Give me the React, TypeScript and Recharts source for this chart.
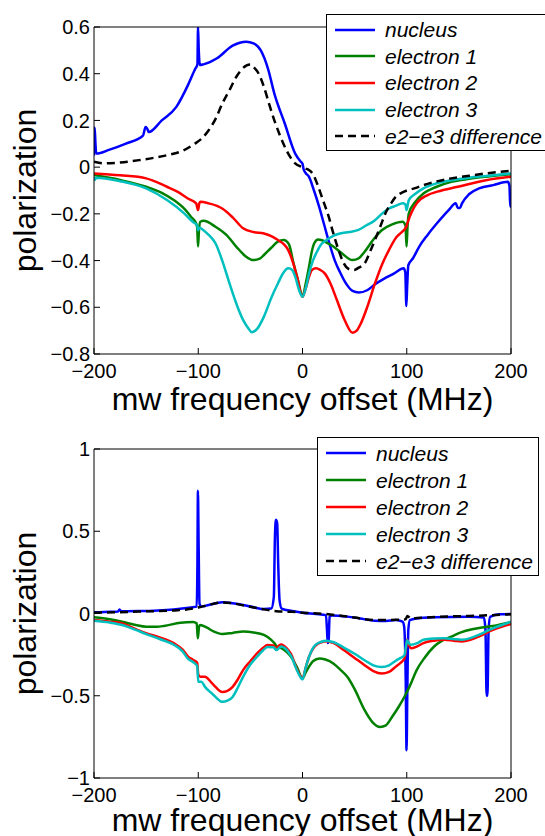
import { Legend, Line, LineChart, XAxis, YAxis } from "recharts";

type Pt = [number, number];

const xTicks = [-200, -100, 0, 100, 200];
const topYTicks = [-0.8, -0.6, -0.4, -0.2, 0, 0.2, 0.4, 0.6];
const bottomYTicks = [-1, -0.5, 0, 0.5, 1];
const seriesNames = ["nucleus", "electron 1", "electron 2", "electron 3", "e2\u2212e3 difference"];

// top panel
const topNucleus: Pt[] = [
  [-200, 0.05], [-199.4, 0.17], [-198.6, 0.1], [-197.8, 0.058], [-185, 0.075], [-170, 0.1],
  [-153, 0.135], [-150.5, 0.172], [-149, 0.165], [-147.5, 0.15], [-135, 0.2], [-121, 0.258],
  [-110, 0.35], [-103, 0.42], [-100.8, 0.44], [-100.2, 0.6], [-99.5, 0.5], [-98.5, 0.437],
  [-95, 0.44], [-82, 0.466], [-67, 0.52], [-54, 0.537], [-47, 0.53], [-40, 0.5], [-33, 0.42],
  [-27, 0.315], [-17, 0.187], [-7, 0.058], [-2, 0.025], [0, 0.015], [1, -0.008], [3, -0.025],
  [6, -0.04], [11, -0.1], [16, -0.17], [21, -0.25], [26, -0.33], [31, -0.4], [36, -0.45],
  [42, -0.5], [48, -0.53], [54, -0.537], [62, -0.527], [70, -0.5], [78, -0.478], [88, -0.455],
  [97, -0.433], [98.6, -0.45], [99.6, -0.595], [100.5, -0.5], [101.5, -0.42], [106, -0.39],
  [112, -0.34], [120, -0.29], [130, -0.235], [140, -0.185], [147, -0.155], [149, -0.175],
  [151, -0.175], [153, -0.155], [160, -0.115], [170, -0.09], [183, -0.077], [197, -0.063],
  [198.5, -0.08], [199.3, -0.17], [200, -0.15],
];
const topElectron1: Pt[] = [
  [-200, -0.034], [-175, -0.055], [-150, -0.084], [-135, -0.11], [-123.5, -0.141], [-113, -0.18],
  [-107, -0.212], [-102, -0.241], [-101, -0.26], [-100.2, -0.34], [-99.3, -0.27], [-98, -0.234],
  [-95, -0.23], [-83.5, -0.255], [-73, -0.29], [-63.6, -0.34], [-55, -0.38], [-47, -0.398],
  [-41, -0.392], [-37, -0.376], [-30, -0.345], [-23.6, -0.319], [-18, -0.312], [-13, -0.33],
  [-8.7, -0.41], [-4, -0.49], [0, -0.555], [3, -0.5], [6.3, -0.426], [9, -0.36], [11.3, -0.326],
  [15, -0.31], [18, -0.312], [24, -0.325], [29.6, -0.34], [38, -0.37], [48, -0.398], [54, -0.39],
  [59.6, -0.362], [68, -0.31], [76, -0.27], [86, -0.245], [96, -0.234], [98.8, -0.25],
  [99.8, -0.34], [100.8, -0.25], [102, -0.198], [108, -0.15], [116, -0.113], [128, -0.085],
  [142.7, -0.063], [160, -0.05], [176, -0.041], [200, -0.03],
];
const topElectron2: Pt[] = [
  [-200, -0.027], [-175, -0.035], [-150, -0.048], [-130, -0.084], [-120, -0.105], [-110, -0.134],
  [-102, -0.155], [-100.2, -0.184], [-99, -0.155], [-98, -0.148], [-90, -0.155], [-77, -0.177],
  [-67, -0.215], [-57, -0.262], [-47, -0.278], [-37, -0.284], [-30, -0.295], [-23.6, -0.312],
  [-18, -0.33], [-13.7, -0.355], [-9, -0.41], [-5.3, -0.469], [0, -0.555], [3, -0.52],
  [6.3, -0.469], [9, -0.44], [13, -0.433], [17, -0.44], [21.3, -0.455], [27, -0.5], [33, -0.569],
  [40, -0.65], [48, -0.709], [52, -0.7], [56, -0.669], [62, -0.6], [69.5, -0.498], [76, -0.42],
  [82.9, -0.355], [90, -0.3], [96, -0.275], [99, -0.26], [100, -0.25], [101, -0.235], [105, -0.19],
  [109.5, -0.155], [120, -0.12], [129.4, -0.105], [149, -0.084], [176, -0.056], [200, -0.041],
];
const topElectron3: Pt[] = [
  [-200, -0.041], [-199.3, -0.055], [-198, -0.045], [-175, -0.06], [-150, -0.091], [-130, -0.141],
  [-113.5, -0.198], [-105, -0.235], [-101, -0.25], [-100.2, -0.27], [-99, -0.26], [-95, -0.27],
  [-90, -0.29], [-83.5, -0.326], [-77, -0.4], [-70, -0.498], [-63, -0.59], [-57, -0.654],
  [-52, -0.69], [-48.6, -0.707], [-44, -0.695], [-37, -0.64], [-30, -0.56], [-23.6, -0.498],
  [-18, -0.45], [-13.7, -0.433], [-10, -0.44], [-7, -0.469], [-3, -0.53], [0, -0.555], [3, -0.52],
  [6.3, -0.455], [10, -0.4], [13, -0.37], [18, -0.33], [23, -0.312], [30, -0.293], [36, -0.284],
  [45, -0.278], [53, -0.27], [61, -0.25], [69.5, -0.227], [76, -0.2], [83, -0.177], [90, -0.165],
  [96, -0.155], [98.8, -0.16], [99.8, -0.184], [101, -0.16], [102, -0.141], [108, -0.115],
  [116, -0.091], [128, -0.07], [142.7, -0.056], [160, -0.045], [176, -0.038], [200, -0.027],
];
const topDiff: Pt[] = [
  [-200, 0.023], [-190, 0.016], [-175, 0.02], [-156.7, 0.03], [-140, 0.042], [-130, 0.051],
  [-115, 0.07], [-103.5, 0.1], [-96, 0.125], [-90, 0.158], [-83, 0.21], [-77, 0.272], [-70, 0.33],
  [-63.6, 0.386], [-58, 0.42], [-53.6, 0.436], [-50, 0.44], [-47, 0.429], [-42, 0.4], [-37, 0.344],
  [-32, 0.27], [-27, 0.2], [-22, 0.14], [-17, 0.087], [-12, 0.045], [-7, 0.016], [-2, 0.003],
  [3, -0.006], [6, -0.012], [9.6, -0.027], [14, -0.07], [19.6, -0.141], [25, -0.21], [29.6, -0.284],
  [35, -0.36], [39.6, -0.412], [44, -0.435], [49.6, -0.44], [54, -0.43], [59.6, -0.412], [65, -0.36],
  [69.5, -0.312], [75, -0.25], [79.5, -0.198], [85, -0.155], [89.5, -0.127], [95, -0.11],
  [99.5, -0.101], [108, -0.09], [116, -0.077], [130, -0.06], [142.7, -0.048], [160, -0.037],
  [176, -0.027], [200, -0.016],
];

// bottom panel
const bottomNucleus: Pt[] = [
  [-200, 0.007], [-185, 0.01], [-177, 0.012], [-175.5, 0.025], [-174, 0.014], [-157, 0.015],
  [-123.5, 0.025], [-107, 0.037], [-101.5, 0.042], [-100.8, 0.3], [-100.3, 0.746], [-99.6, 0.4],
  [-98.8, 0.06], [-97, 0.042], [-90, 0.052], [-77, 0.068], [-67, 0.062], [-57, 0.052], [-45, 0.035],
  [-37, 0.027], [-30, 0.03], [-27.5, 0.1], [-26.5, 0.45], [-25.5, 0.57], [-24.3, 0.55], [-23.3, 0.3],
  [-22, 0.08], [-20, 0.03], [-10, 0.015], [0, 0.005], [13, -0.003], [22.5, -0.01], [23.5, -0.1],
  [24.2, -0.18], [25, -0.17], [26, -0.02], [28, -0.012], [43, -0.019], [55, -0.03], [69.5, -0.044],
  [80, -0.045], [89.5, -0.04], [96, -0.05], [97.5, -0.08], [99, -0.4], [99.8, -0.832], [100.6, -0.45],
  [101.5, -0.1], [103, -0.04], [110, -0.03], [126, -0.023], [159, -0.019], [174, -0.025],
  [175.5, -0.1], [176.6, -0.5], [177.4, -0.5], [178.5, -0.1], [180, -0.02], [189, -0.005],
  [200, -0.003],
];
const bottomElectron1: Pt[] = [
  [-200, -0.023], [-185, -0.035], [-173, -0.05], [-160, -0.07], [-150, -0.08], [-140, -0.08],
  [-133, -0.076], [-117, -0.056], [-105, -0.052], [-101.5, -0.06], [-100.4, -0.151], [-99.2, -0.08],
  [-98, -0.07], [-92, -0.085], [-85, -0.11], [-77, -0.125], [-67, -0.118], [-57, -0.11],
  [-47, -0.115], [-37, -0.13], [-30, -0.16], [-27, -0.18], [-24, -0.205], [-20.3, -0.21],
  [-15, -0.235], [-10.3, -0.27], [-5, -0.33], [0, -0.395], [3, -0.36], [6.3, -0.323], [10, -0.29],
  [16.3, -0.273], [22, -0.28], [29.6, -0.304], [36, -0.34], [43, -0.385], [50, -0.46],
  [59.6, -0.588], [67, -0.66], [74.5, -0.69], [80, -0.68], [86, -0.628], [92, -0.57],
  [97.8, -0.506], [103, -0.44], [109.5, -0.344], [117, -0.27], [126, -0.202], [134, -0.165],
  [142.7, -0.141], [152, -0.115], [162.7, -0.096], [172, -0.085], [182.7, -0.076], [200, -0.052],
];
const bottomElectron2: Pt[] = [
  [-200, -0.04], [-185, -0.05], [-173, -0.06], [-160, -0.095], [-150, -0.12], [-137, -0.145],
  [-123.5, -0.18], [-115, -0.22], [-110, -0.26], [-104, -0.285], [-101, -0.3], [-100, -0.37],
  [-98, -0.385], [-93.5, -0.385], [-88, -0.415], [-83.5, -0.446], [-77, -0.477], [-72, -0.47],
  [-67, -0.446], [-62, -0.4], [-57, -0.344], [-50, -0.29], [-43.6, -0.243], [-38, -0.21],
  [-33.6, -0.192], [-28, -0.195], [-25, -0.212], [-22.5, -0.195], [-20.3, -0.188], [-17, -0.2],
  [-13.7, -0.222], [-10, -0.26], [-7, -0.314], [-3, -0.37], [0, -0.395], [3, -0.33], [6.3, -0.263],
  [10, -0.215], [13, -0.192], [18, -0.175], [23, -0.168], [30, -0.18], [39.6, -0.222], [50, -0.27],
  [59.6, -0.314], [68, -0.35], [76, -0.365], [83, -0.355], [89.5, -0.323], [94, -0.3],
  [97.8, -0.274], [99.5, -0.2], [100.3, -0.16], [102, -0.19], [104, -0.212], [110, -0.2],
  [116, -0.18], [126, -0.165], [136, -0.16], [145, -0.165], [152.7, -0.17], [161, -0.16],
  [169, -0.14], [182.7, -0.1], [200, -0.064],
];
const bottomElectron3: Pt[] = [
  [-200, -0.044], [-185, -0.055], [-173, -0.07], [-160, -0.1], [-150, -0.125], [-137, -0.155],
  [-123.5, -0.19], [-115, -0.23], [-110, -0.274], [-104, -0.3], [-101, -0.32], [-100, -0.415],
  [-97, -0.415], [-93.5, -0.446], [-88, -0.48], [-83.5, -0.507], [-77, -0.537], [-72, -0.53],
  [-67, -0.507], [-62, -0.45], [-57, -0.385], [-50, -0.31], [-43.6, -0.263], [-38, -0.225],
  [-33.6, -0.203], [-28, -0.205], [-25, -0.222], [-22.5, -0.21], [-20.3, -0.2], [-17, -0.21],
  [-13.7, -0.233], [-10, -0.27], [-7, -0.32], [-3, -0.375], [0, -0.4], [3, -0.33], [6.3, -0.263],
  [10, -0.21], [13, -0.188], [18, -0.172], [23, -0.165], [30, -0.175], [39.6, -0.207], [50, -0.245],
  [59.6, -0.284], [68, -0.315], [76, -0.325], [83, -0.315], [89.5, -0.287], [94, -0.27],
  [97.8, -0.253], [99.5, -0.19], [100.3, -0.162], [102, -0.18], [104, -0.19], [110, -0.18],
  [116, -0.16], [126, -0.152], [136, -0.15], [145, -0.155], [152.7, -0.16], [161, -0.15],
  [169, -0.13], [182.7, -0.09], [200, -0.05],
];
const bottomDiff: Pt[] = [
  [-200, 0.005], [-175, 0.008], [-150, 0.013], [-120, 0.02], [-105, 0.03], [-98, 0.04], [-90, 0.052],
  [-77, 0.067], [-67, 0.062], [-57, 0.05], [-45, 0.035], [-37, 0.025], [-25, 0.014], [-10, 0.01],
  [0, 0.005], [20, -0.002], [35, -0.012], [50, -0.025], [70, -0.04], [90, -0.038], [99, -0.035],
  [100.5, -0.015], [104, -0.03], [110, -0.028], [130, -0.02], [160, -0.015], [200, -0.005],
];

const FONT = '"Liberation Sans", Arial, Helvetica, sans-serif';
const lineStyles = [
  { stroke: "#0000ff" },
  { stroke: "#008000" },
  { stroke: "#ff0000" },
  { stroke: "#00bfbf" },
  { stroke: "#000000", dash: "8 5" },
];

const fmt = (v: number) => String(v).replace("-", "\u2212");
const rows = (pts: Pt[]) => pts.map(([x, y]) => ({ x, y }));

function LegendBox({ rowH }: { rowH: number }) {
  return (
    <div
      style={{
        border: "1px solid #000",
        background: "#fff",
        width: 222,
        boxSizing: "border-box",
        padding: "1.5px 0 0.5px 0",
        fontFamily: FONT,
      }}
    >
      {seriesNames.map((name, i) => (
        <div key={name} style={{ display: "flex", alignItems: "center", height: rowH }}>
          <svg width={58} height={10} style={{ flex: "none" }}>
            <line
              x1={8}
              x2={48}
              y1={5}
              y2={5}
              stroke={lineStyles[i].stroke}
              strokeWidth={2.5}
              strokeDasharray={lineStyles[i].dash}
            />
          </svg>
          <span style={{ fontStyle: "italic", fontSize: 21, lineHeight: 1, whiteSpace: "nowrap", color: "#000" }}>
            {name}
          </span>
        </div>
      ))}
    </div>
  );
}

type PanelProps = {
  series: Pt[][];
  yDomain: [number, number];
  yTicks: number[];
  top: number;
  xAxisH: number;
  titleOffset: number;
  legendLeft: number;
  legendTop: number;
  rowH: number;
};

function Panel({ series, yDomain, yTicks, top, xAxisH, titleOffset, legendLeft, legendTop, rowH }: PanelProps) {
  const axisStroke = { stroke: "#000", strokeWidth: 1 };
  return (
    <LineChart width={545} height={418} margin={{ top, right: 33, bottom: 0, left: 0 }} style={{ fontFamily: FONT }}>
      <XAxis
        dataKey="x"
        type="number"
        domain={[-200, 200]}
        ticks={xTicks}
        allowDataOverflow
        height={xAxisH}
        axisLine={axisStroke}
        tickLine={axisStroke}
        tickSize={-6}
        tickMargin={16}
        tick={{ fill: "#000", fontSize: 20 }}
        tickFormatter={fmt}
        label={{ value: "mw frequency offset (MHz)", position: "insideBottom", offset: titleOffset, fontSize: 32, fill: "#000" }}
      />
      <XAxis
        xAxisId="top"
        orientation="top"
        dataKey="x"
        type="number"
        domain={[-200, 200]}
        ticks={xTicks}
        allowDataOverflow
        height={1}
        axisLine={axisStroke}
        tickLine={axisStroke}
        tickSize={-6}
        tick={false}
      />
      <YAxis
        type="number"
        domain={yDomain}
        ticks={yTicks}
        allowDataOverflow
        width={94}
        axisLine={axisStroke}
        tickLine={axisStroke}
        tickSize={-6}
        tickMargin={10}
        tick={{ fill: "#000", fontSize: 20 }}
        tickFormatter={fmt}
        label={{
          value: "polarization",
          angle: -90,
          position: "insideLeft",
          offset: 25,
          fontSize: 32,
          fill: "#000",
          style: { textAnchor: "middle" },
        }}
      />
      <YAxis
        yAxisId="right"
        orientation="right"
        type="number"
        domain={yDomain}
        ticks={yTicks}
        allowDataOverflow
        width={1}
        axisLine={axisStroke}
        tickLine={axisStroke}
        tickSize={-6}
        tick={false}
      />
      {/* invisible copy so the top/right frame axes are drawn */}
      <Line
        xAxisId="top"
        yAxisId="right"
        data={rows(series[0])}
        dataKey="y"
        stroke="transparent"
        dot={false}
        activeDot={false}
        legendType="none"
        isAnimationActive={false}
      />
      {series.map((pts, i) => (
        <Line
          key={seriesNames[i]}
          name={seriesNames[i]}
          data={rows(pts)}
          dataKey="y"
          type="monotone"
          stroke={lineStyles[i].stroke}
          strokeDasharray={lineStyles[i].dash}
          strokeWidth={2.5}
          dot={false}
          activeDot={false}
          isAnimationActive={false}
        />
      ))}
      <Legend
        layout="horizontal"
        verticalAlign="middle"
        align="center"
        wrapperStyle={{ left: legendLeft, top: legendTop, width: 222 }}
        content={() => <LegendBox rowH={rowH} />}
      />
    </LineChart>
  );
}

export default function App() {
  return (
    <div
      style={{
        position: "absolute",
        left: 0,
        top: 0,
        width: 545,
        height: 836,
        overflow: "hidden",
        background: "#fff",
        fontFamily: FONT,
      }}
    >
      <Panel
        series={[topNucleus, topElectron1, topElectron2, topElectron3, topDiff]}
        yDomain={[-0.8, 0.6]}
        yTicks={topYTicks}
        top={26}
        xAxisH={64}
        titleOffset={8}
        legendLeft={326}
        legendTop={14}
        rowH={26.6}
      />
      <Panel
        series={[bottomNucleus, bottomElectron1, bottomElectron2, bottomElectron3, bottomDiff]}
        yDomain={[-1, 1]}
        yTicks={bottomYTicks}
        top={30}
        xAxisH={58}
        titleOffset={5}
        legendLeft={317}
        legendTop={19}
        rowH={27}
      />
    </div>
  );
}
